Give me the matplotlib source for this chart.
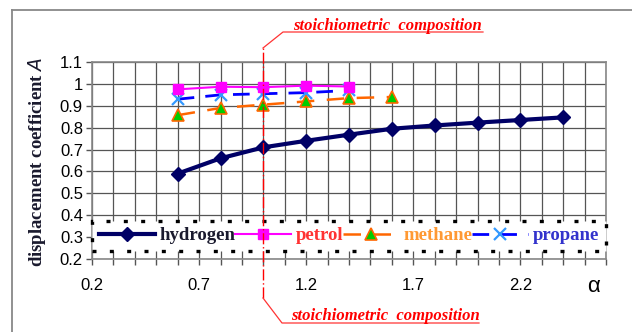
import matplotlib
matplotlib.use("Agg")
import matplotlib.pyplot as plt
from matplotlib.lines import Line2D
from matplotlib.ticker import MultipleLocator, FixedLocator, FuncFormatter
import matplotlib.transforms as mtransforms

# ---- data ----
alpha_h = [0.6, 0.8, 1.0, 1.2, 1.4, 1.6, 1.8, 2.0, 2.2, 2.4]
hydrogen = [0.59, 0.66, 0.71, 0.74, 0.768, 0.795, 0.81, 0.823, 0.835, 0.847]
alpha_p = [0.6, 0.8, 1.0, 1.2, 1.4]
petrol = [0.975, 0.987, 0.985, 0.992, 0.988]
alpha_m = [0.6, 0.8, 1.0, 1.2, 1.4, 1.6]
methane = [0.857, 0.89, 0.905, 0.92, 0.935, 0.94]
alpha_pr = [0.6, 0.8, 1.0, 1.2, 1.4]
propane = [0.93, 0.95, 0.955, 0.96, 0.97]
x_ticks = [0.2, 0.7, 1.2, 1.7, 2.2]
stoich_alpha = 1.0
labels = ["hydrogen", "petrol", "methane", "propane"]

serif = ["Liberation Serif", "DejaVu Serif"]
sans = ["Liberation Sans", "DejaVu Sans"]

fig = plt.figure(figsize=(6.32, 3.32), dpi=100)
ax = fig.add_axes([92/632, 1-259/332, (606-92)/632, (259-62)/332])

# figure border (top & left)
fig.add_artist(Line2D([12/632, 1.0], [1-10/332, 1-10/332], color="#888888", lw=1.3, transform=fig.transFigure))
fig.add_artist(Line2D([12/632, 12/632], [1-10/332, 0], color="#888888", lw=1.3, transform=fig.transFigure))

ax.set_xlim(0.2, 2.6)
ax.set_ylim(0.2, 1.1)
ax.xaxis.set_major_locator(FixedLocator(x_ticks))
ax.xaxis.set_minor_locator(MultipleLocator(0.1))
ax.yaxis.set_major_locator(MultipleLocator(0.1))
ax.xaxis.set_major_formatter(FuncFormatter(lambda v, p: "%g" % round(v, 2)))
ax.yaxis.set_major_formatter(FuncFormatter(lambda v, p: "%g" % round(v, 2)))
ax.grid(True, which="both", color="#555555", lw=0.9)
ax.set_axisbelow(True)
for s in ax.spines.values():
    s.set_color("#888888")
    s.set_linewidth(1.2)
ax.tick_params(which="both", direction="out", color="#555555", length=4.5, width=1)
ax.tick_params(axis="y", which="major", labelsize=12, pad=2)
ax.tick_params(axis="x", which="major", labelsize=12, pad=9)
for t in ax.get_xticklabels() + ax.get_yticklabels():
    t.set_family(sans)

l1, = ax.plot(alpha_h, hydrogen, color="#000066", lw=3, marker="D", ms=7.5, zorder=4)
l2, = ax.plot(alpha_p, petrol, color="#ff00ff", lw=1.5, marker="s", ms=6.5, zorder=4)
l3, = ax.plot(alpha_m, methane, color="#ff6600", lw=1.8, ls=(0, (7, 5)), marker="^",
              ms=9, mfc="#00cc00", mec="#ff6600", mew=1.2, zorder=3)
l4, = ax.plot(alpha_pr, propane, color="#0000ff", lw=2, ls=(0, (6, 4)), marker="x",
              ms=9, mec="#3399ff", mew=1.6, zorder=3)

leg = ax.legend([l1, l2, l3, l4], labels, ncol=4, loc="lower left",
                bbox_to_anchor=(0, 0.041, 1, 0.18), mode="expand", borderaxespad=0,
                prop={"family": serif, "weight": "bold", "size": 13.5},
                handlelength=3.0, handletextpad=0.25, columnspacing=0.3,
                frameon=True, fancybox=False, framealpha=1, borderpad=0.35)
fr = leg.get_frame()
fr.set_edgecolor("black")
fr.set_linewidth(2.4)
fr.set_linestyle((0, (1.2, 4)))
for txt, c in zip(leg.get_texts(), ["#1a1a2e", "#ff3333", "#ff9933", "#3333cc"]):
    txt.set_color(c)

# stoichiometric line
trans = mtransforms.blended_transform_factory(ax.transData, ax.transAxes)
y_top = 1 + (62-48)/197
y_bot = -(298-259)/197
ax.plot([stoich_alpha, stoich_alpha], [y_bot, y_top], transform=trans, color="#ff0000",
        lw=1, ls=(0, (8, 2, 1, 2)), clip_on=False, zorder=6)

# callouts (figure pixel coords)
def fx(px): return px/632
def fy(py): return 1-py/332
fig.add_artist(Line2D([fx(263), fx(283), fx(483)], [fy(48), fy(32), fy(32)], color="#ff3333", lw=0.9,
                      transform=fig.transFigure))
fig.add_artist(Line2D([fx(263), fx(282), fx(479)], [fy(298), fy(323), fy(323)], color="#ff3333", lw=0.9,
                      transform=fig.transFigure))
fig.text(fx(387), fy(29.5), "stoichiometric  composition", color="#ff0000", family=serif,
         weight="bold", style="italic", size=12, ha="center", va="baseline")
fig.text(fx(385), fy(319.5), "stoichiometric  composition", color="#ff0000", family=serif,
         weight="bold", style="italic", size=12, ha="center", va="baseline")

fig.text(fx(37), fy(162), "displacement coefficient $\\mathit{A}$", rotation=90, family=serif,
         weight="bold", size=13.5, color="#1a1a2e", ha="center", va="center")
fig.text(fx(594), fy(286), "α", family=sans, size=16, ha="center", va="center")

fig.savefig("out.png", dpi=100)
